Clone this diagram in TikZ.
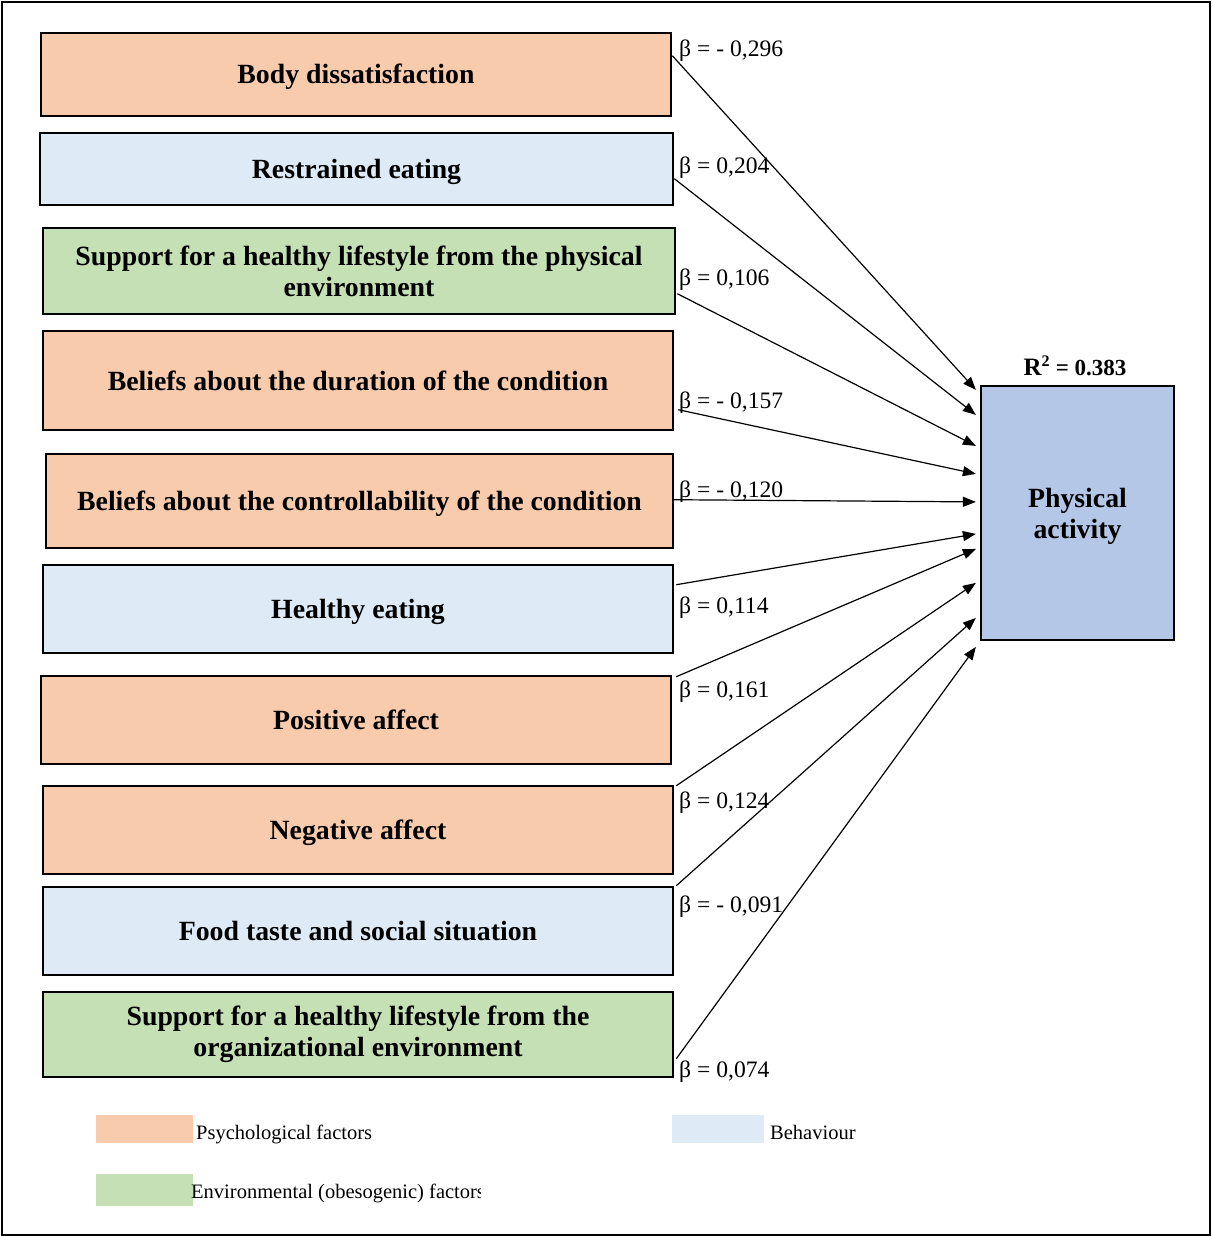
\documentclass[tikz,border=0pt]{standalone}
\usepackage{fontspec}
\setmainfont{Liberation Serif}
\usetikzlibrary{arrows.meta,calc}
\definecolor{psyc}{HTML}{F8CBAD}
\definecolor{behv}{HTML}{DEEBF7}
\definecolor{envr}{HTML}{C5E0B4}
\definecolor{outc}{HTML}{B4C7E7}

\begin{document}
\begin{tikzpicture}[x=1pt,y=-1pt,
  factor/.style={draw=black, line width=2.6pt, inner sep=0pt, align=center,
     font=\fontsize{27.8}{31}\selectfont\bfseries},
  oneline/.style={text height=23pt, text depth=4pt},
  psy/.style={factor, fill=psyc},
  beh/.style={factor, fill=behv},
  env/.style={factor, fill=envr},
  outcome/.style={factor, fill=outc, line width=2.2pt},
  beta/.style={anchor=base west, inner sep=0pt, font=\fontsize{23.6}{25}\selectfont},
  effect/.style={draw=black, line width=1.2pt, -{Triangle[length=13pt,width=10pt]}},
  swatch/.style={inner sep=0pt, draw=none},
  legtext/.style={anchor=base west, inner sep=0pt, font=\fontsize{20.5}{22}\selectfont}
]
\useasboundingbox (0,0) rectangle (1212,1236);
\draw[line width=1.6pt] (2,2) rectangle (1210,1235);

% predictor boxes
\node[psy, oneline, minimum width=630, minimum height=83] (b1) at (356,74.5) {Body dissatisfaction};
\node[beh, oneline, minimum width=633, minimum height=72] (b2) at (356.5,169) {Restrained eating};
\node[env, minimum width=632, minimum height=86] (b3) at (359,271) {Support for a healthy lifestyle from the physical\\environment};
\node[psy, oneline, minimum width=630, minimum height=99] (b4) at (358,380.5) {Beliefs about the duration of the condition};
\node[psy, oneline, minimum width=627, minimum height=94] (b5) at (359.5,501) {Beliefs about the controllability of the condition};
\node[beh, oneline, minimum width=630, minimum height=88] (b6) at (358,609) {Healthy eating};
\node[psy, oneline, minimum width=630, minimum height=88] (b7) at (356,720) {Positive affect};
\node[psy, oneline, minimum width=630, minimum height=88] (b8) at (358,830) {Negative affect};
\node[beh, oneline, minimum width=630, minimum height=88] (b9) at (358,931) {Food taste and social situation};
\node[env, minimum width=630, minimum height=85] (b10) at (358,1034.5) {Support for a healthy lifestyle from the\\organizational environment};

% outcome
\node[outcome, minimum width=193, minimum height=254,
      label={[name=pat, align=center, inner sep=0pt, yshift=-3pt,
              font=\fontsize{27.8}{31}\selectfont\bfseries]center:Physical\\activity}] (pa) at (1077.5,513) {};
\node[inner sep=0pt, font=\fontsize{23}{25}\selectfont\bfseries] (r2) at (1075,366) {{\fontsize{25}{27}\selectfont R}\textsuperscript{2} = 0.383};

% standardised coefficients
\node[beta] (l1) at (679,57) {β = - 0,296};
\node[beta] (l2) at (679,173) {β = 0,204};
\node[beta] (l3) at (679,285) {β = 0,106};
\node[beta] (l4) at (679,408) {β = - 0,157};
\node[beta] (l5) at (679,497) {β = - 0,120};
\node[beta] (l6) at (679,613) {β = 0,114};
\node[beta] (l7) at (679,697) {β = 0,161};
\node[beta] (l8) at (679,808) {β = 0,124};
\node[beta] (l9) at (679,912) {β = - 0,091};
\node[beta] (l10) at (679,1077) {β = 0,074};

% paths to physical activity
\draw[effect] ([yshift=-24pt]b1.north east) -- ([xshift=-4pt,yshift=-5pt]pa.north west);
\draw[effect] ([yshift=-47pt]b2.north east) -- ([xshift=-4pt,yshift=-30pt]pa.north west);
\draw[effect] ([xshift=1pt,yshift=-67pt]b3.north east) -- ([xshift=-4pt,yshift=-61pt]pa.north west);
\draw[effect] ([xshift=4pt,yshift=-80pt]b4.north east) -- ([xshift=-4pt,yshift=-89pt]pa.north west);
\draw[effect] ([xshift=-2pt,yshift=-47pt]b5.north east) -- ([xshift=-4pt,yshift=-117pt]pa.north west);
\draw[effect] ([xshift=2pt,yshift=-21pt]b6.north east) -- ([xshift=-4pt,yshift=-149pt]pa.north west);
\draw[effect] ([xshift=4pt,yshift=-2pt]b7.north east) -- ([xshift=-4pt,yshift=-164pt]pa.north west);
\draw[effect] ([xshift=2pt,yshift=-1pt]b8.north east) -- ([xshift=-4pt,yshift=-198pt]pa.north west);
\draw[effect] ([xshift=2pt]b9.north east) -- ([xshift=-4pt,yshift=-233pt]pa.north west);
\draw[effect] ([xshift=2pt,yshift=-68pt]b10.north east) -- ([xshift=-4pt,yshift=-262pt]pa.north west);

% legend
\node[swatch, fill=psyc, minimum width=97, minimum height=28] (k1) at (144.5,1129) {};
\node[legtext] (t1) at (196,1139) {Psychological factors};
\node[swatch, fill=behv, minimum width=92, minimum height=28] (k2) at (718,1129) {};
\node[legtext] (t2) at (770,1139) {Behaviour};
\node[swatch, fill=envr, minimum width=97, minimum height=32] (k3) at (144.5,1190) {};
\begin{scope}
  \clip (0,1160) rectangle (480,1230);
  \node[legtext] (t3) at (191,1198) {Environmental (obesogenic) factors};
\end{scope}
\end{tikzpicture}
\end{document}
